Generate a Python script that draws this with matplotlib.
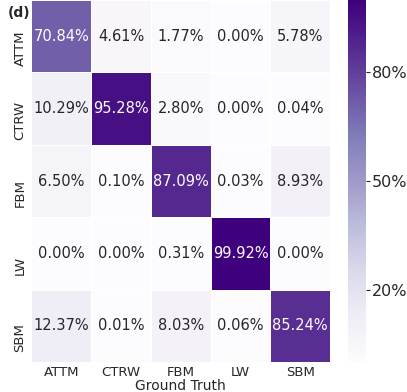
import matplotlib
matplotlib.use("Agg")
import matplotlib.pyplot as plt
import seaborn as sns
import numpy as np

# classes (rows = predicted, columns = ground truth)
classes = ["ATTM", "CTRW", "FBM", "LW", "SBM"]

# confusion matrix values in percent
row_attm = [70.84, 4.61, 1.77, 0.00, 5.78]
row_ctrw = [10.29, 95.28, 2.80, 0.00, 0.04]
row_fbm = [6.50, 0.10, 87.09, 0.03, 8.93]
row_lw = [0.00, 0.00, 0.31, 99.92, 0.00]
row_sbm = [12.37, 0.01, 8.03, 0.06, 85.24]

cbar_ticks = [20, 50, 80]

cm = np.array([row_attm, row_ctrw, row_fbm, row_lw, row_sbm])
annot = np.array([[f"{v:.2f}%" for v in row] for row in cm])

sns.set_theme(style="white")
plt.rcParams['font.family'] = ['DejaVu Sans']

fig = plt.figure(figsize=(4.07, 3.92), dpi=100)
ax = fig.add_axes([0.077, 0.0765, 0.734, 0.9235])
cax = fig.add_axes([0.855, 0.0765, 0.044, 0.9235])

sns.heatmap(cm, ax=ax, cbar_ax=cax, cmap="Purples", vmin=0, vmax=100,
            annot=annot, fmt="", annot_kws={"fontsize": 10.5},
            linewidths=0.5, linecolor="white",
            xticklabels=classes, yticklabels=classes,
            cbar_kws={"ticks": cbar_ticks})

ax.tick_params(axis="both", length=0, labelsize=9.5, colors="#262626")
ax.tick_params(axis="x", pad=3)
# row labels sit a bit below the row centres in the original
ax.set_yticks(np.arange(len(classes)) + 0.66)
ax.set_yticklabels(classes, rotation=90, va="center")
ax.set_xlabel("Ground Truth", fontsize=10, color="#262626", labelpad=0)

cax.set_yticklabels([f"{t}%" for t in cbar_ticks])
cax.tick_params(labelsize=11.5, colors="#262626", length=3, width=0.8, pad=1.5)
for s in cax.spines.values():
    s.set_visible(False)

fig.text(0.02, 0.985, "(d)", fontsize=10, fontweight="bold", va="top", color="#262626")

plt.savefig("out.png", dpi=100)
